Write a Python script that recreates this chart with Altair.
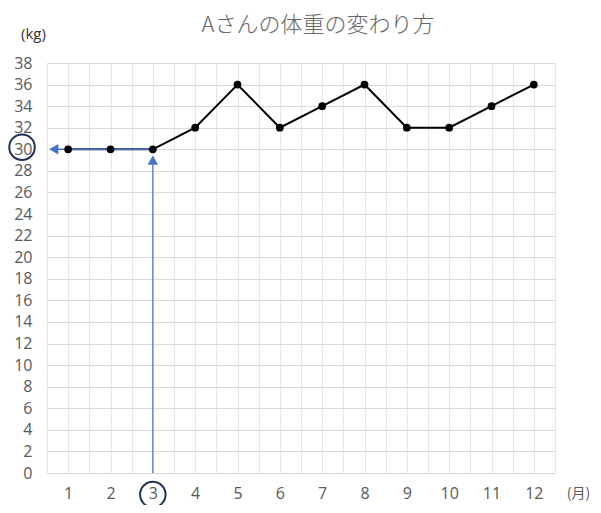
import altair as alt
import pandas as pd

# ---- data ----
months = [1, 2, 3, 4, 5, 6, 7, 8, 9, 10, 11, 12]
weights = [30, 30, 30, 32, 36, 32, 34, 36, 32, 32, 34, 36]
y_ticks = list(range(0, 39, 2))
x_grid = [0.5 + 0.5 * i for i in range(25)]

title_text = "Aさんの体重の変わり方"
y_unit = "(kg)"
x_unit = "(月)"

# annotation (arrows pointing from month 3 to 30 kg, circled labels)
h_arrow_x = [3]
h_arrow_x2 = [0.62]
h_arrow_y = [30]
h_head_x = [0.66]
h_head_y = [30]
v_arrow_x = [3]
v_arrow_y = [0]
v_arrow_y2 = [29.2]
v_head_x = [3]
v_head_y = [29.0]
circle_x = [-0.09, 3]
circle_y = [30.2, -2.0]

GRAY = "#595959"
GRID_H = "#d9d9d9"
GRID_V = "#e6e6e6"
BLUE = "#4472C4"
NAVY = "#1F2F55"
FONT = "Open Sans"
JFONT = "Noto Sans CJK JP"

xscale = alt.Scale(domain=[0.5, 12.5], nice=False, zero=False)
yscale = alt.Scale(domain=[0, 38], nice=False)

x_axis = alt.Axis(
    values=x_grid,
    labelExpr="datum.value % 1 == 0 ? format(datum.value, 'd') : ''",
    ticks=False,
    domain=True,
    domainColor=GRID_H,
    grid=True,
    gridColor=GRID_V,
    gridWidth=1,
    labelFontSize=16,
    labelColor=GRAY,
    labelFont=FONT,
    labelPadding=12,
    title=x_unit,
    titleFont=JFONT,
    titleFontSize=14,
    titleFontWeight="normal",
    titleColor=GRAY,
    titleAngle=0,
    titleX=531,
    titleY=20,
    titleAlign="center",
    titleBaseline="middle",
)
y_axis = alt.Axis(
    values=y_ticks,
    ticks=False,
    domain=False,
    grid=True,
    gridColor=GRID_H,
    gridWidth=1,
    labelFontSize=16,
    labelColor=GRAY,
    labelFont=FONT,
    labelPadding=15,
    title=y_unit,
    titleFont=FONT,
    titleFontSize=15,
    titleFontWeight="normal",
    titleColor="#333333",
    titleAngle=0,
    titleX=-14,
    titleY=-30,
    titleAlign="center",
    titleBaseline="middle",
)


def X(field):
    return alt.X(field, scale=xscale, axis=x_axis, title=x_unit)


def Y(field):
    return alt.Y(field, scale=yscale, axis=y_axis, title=y_unit)


df = pd.DataFrame({"month": months, "weight": weights})

line = alt.Chart(df).mark_line(color="black", strokeWidth=2).encode(x=X("month:Q"), y=Y("weight:Q"))
pts = alt.Chart(df).mark_point(filled=True, color="black", size=60, opacity=1).encode(
    x=X("month:Q"), y=Y("weight:Q")
)

h_df = pd.DataFrame({"month": h_arrow_x, "x2": h_arrow_x2, "weight": h_arrow_y})
h_line = alt.Chart(h_df).mark_rule(color=BLUE, strokeWidth=1.5).encode(
    x=X("month:Q"), x2="x2:Q", y=Y("weight:Q")
)
hh_df = pd.DataFrame({"month": h_head_x, "weight": h_head_y})
h_head = alt.Chart(hh_df).mark_point(shape="triangle-left", filled=True, color=BLUE, size=110, opacity=1).encode(
    x=X("month:Q"), y=Y("weight:Q")
)
v_df = pd.DataFrame({"month": v_arrow_x, "weight": v_arrow_y, "y2": v_arrow_y2})
v_line = alt.Chart(v_df).mark_rule(color=BLUE, strokeWidth=1.2).encode(
    x=X("month:Q"), y=Y("weight:Q"), y2="y2:Q"
)
vh_df = pd.DataFrame({"month": v_head_x, "weight": v_head_y})
v_head = alt.Chart(vh_df).mark_point(shape="triangle-up", filled=True, color=BLUE, size=110, opacity=1).encode(
    x=X("month:Q"), y=Y("weight:Q")
)
c_df = pd.DataFrame({"month": circle_x, "weight": circle_y})
circles = alt.Chart(c_df).mark_point(
    shape="circle", filled=False, color=NAVY, size=650, strokeWidth=2, opacity=1, clip=False
).encode(x=X("month:Q"), y=Y("weight:Q"))

chart = (
    alt.layer(line, h_line, v_line, pts, h_head, v_head, circles)
    .properties(
        width=508,
        height=410,
        autosize="none",
        padding={"left": 39, "top": 55, "right": 38, "bottom": 32},
        title=alt.TitleParams(
            title_text,
            font=JFONT,
            fontSize=22,
            fontWeight=300,
            color="#666666",
            anchor="middle",
            dx=17,
            offset=-11,
        ),
    )
    .configure_view(stroke="transparent")
    .configure(background="white")
)

chart.save("out.html", embed_options={"renderer": "svg", "actions": False})
